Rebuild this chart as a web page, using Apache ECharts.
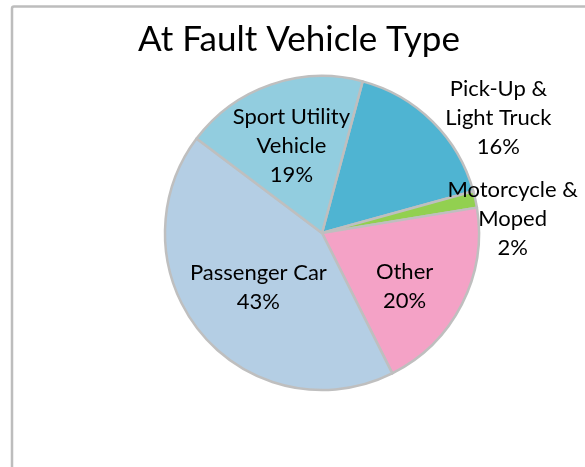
<!DOCTYPE html>
<html>
<head>
<meta charset="utf-8">
<script src="https://cdn.jsdelivr.net/npm/echarts@6/dist/echarts.min.js"></script>
<style>
  html, body { margin: 0; padding: 0; background: #fff; }
  #chart { width: 585px; height: 467px; }
</style>
</head>
<body>
<div id="chart"></div>
<script>
// data (clockwise from the first slice)
const categories = ['Pick-Up &\nLight Truck', 'Motorcycle &\nMoped', 'Other', 'Passenger Car', 'Sport Utility\nVehicle']
const shares = [16.55, 1.7, 20.2, 42.65, 18.9]
const colors = ['#4fb4d2', '#92d050', '#f4a2c6', '#b4cee4', '#92cddf']
// label nudges from the default inside spot
const labelOffsets = [[119, -57], [111, 3], [10, 16], [-1, 2], [-4, -10]]

const chart = echarts.init(document.getElementById('chart'), null, { renderer: 'canvas' })

const font = 'Lato, "Liberation Sans", sans-serif'

chart.setOption({
  backgroundColor: '#fff',
  animation: false,
  title: {
    text: 'At Fault Vehicle Type',
    left: 299,
    top: 22,
    padding: 0,
    textAlign: 'center',
    textStyle: { fontFamily: font, fontSize: 35, fontWeight: 'normal', color: '#000' }
  },
  graphic: [{
    type: 'rect',
    shape: { x: 12, y: 6.5, width: 620, height: 520, r: 2 },
    style: { fill: 'none', stroke: '#bdbdbd', lineWidth: 2.5 },
    silent: true
  }],
  series: [{
    type: 'pie',
    center: [322, 233],
    radius: [0, 157],
    startAngle: 75,
    clockwise: true,
    percentPrecision: 0,
    avoidLabelOverlap: false,
    itemStyle: { borderColor: '#bfbfbf', borderWidth: 2.5 },
    label: {
      show: true,
      position: 'inside',
      formatter: '{b}\n{d}%',
      fontFamily: font,
      fontSize: 22,
      lineHeight: 29,
      color: '#000'
    },
    labelLine: { show: false },
    emphasis: { disabled: true },
    data: categories.map((name, i) => ({
      name: name,
      value: shares[i],
      itemStyle: { color: colors[i] },
      label: { offset: labelOffsets[i] }
    }))
  }]
})
</script>
</body>
</html>
